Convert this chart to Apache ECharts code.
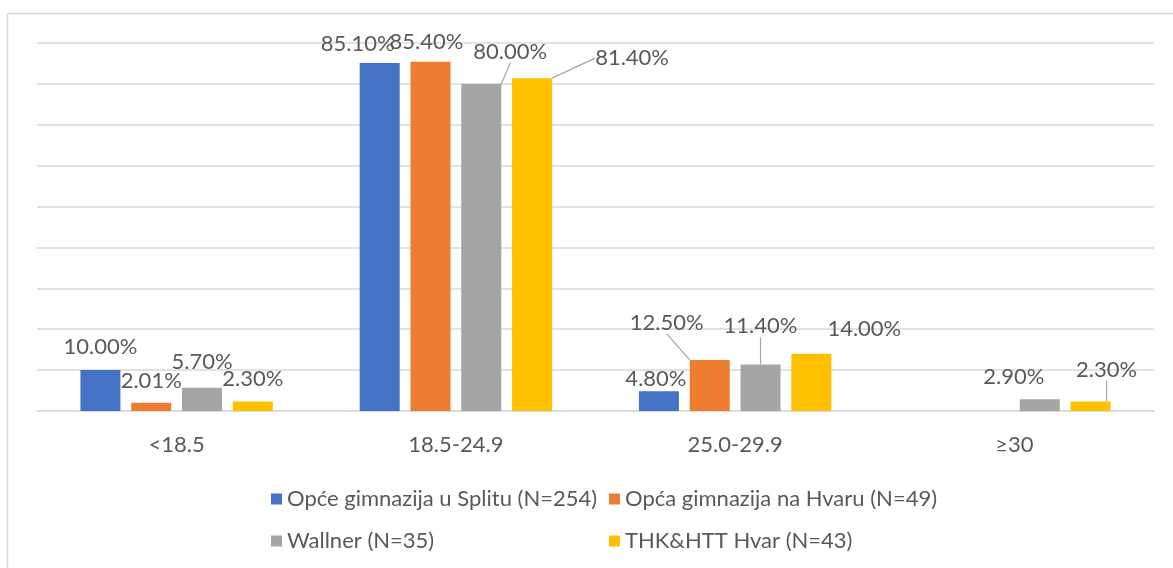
<!DOCTYPE html>
<html><head><meta charset="utf-8">
<script src="https://cdn.jsdelivr.net/npm/echarts@6/dist/echarts.min.js"></script>
<style>html,body{margin:0;padding:0;background:#fff}#c{width:1173px;height:568px}</style>
</head><body><div id="c"></div>
<script>
const categories = ['<18.5', '18.5-24.9', '25.0-29.9', '≥30'];
const seriesNames = ['Opće gimnazija u Splitu (N=254)', 'Opća gimnazija na Hvaru (N=49)', 'Wallner (N=35)', 'THK&HTT Hvar (N=43)'];
const splitValues = [10.00, 85.10, 4.80, null];
const hvarValues = [2.01, 85.40, 12.50, null];
const wallnerValues = [5.70, 80.00, 11.40, 2.90];
const thkValues = [2.30, 81.40, 14.00, 2.30];

const colors = ['#4472C4', '#ED7D31', '#A5A5A5', '#FFC000'];
// label displacement (style) relative to default top position, and leader-line flags
const labelShift = [
  [[0,0],[-22,4],[-3,11],[0,0]],
  [[0,1],[-4,3],[-43,-14],[0,0]],
  [[0,-3],[29,-9],[0,-15],[-26,1]],
  [[0,0],[100,3],[53,-2],[16,-9]]
];
const leader = [
  [false,false,false,false],
  [false,false,true,false],
  [false,true,true,false],
  [false,true,false,true]
];
const FONT = 'Lato';
const FS = 22;
const allValues = [splitValues, hvarValues, wallnerValues, thkValues];

const chart = echarts.init(document.getElementById('c'));
chart.setOption({
  animation: false,
  textStyle: {fontFamily: FONT},
  graphic: [{type:'rect', shape:{x:7.5, y:13.5, width:1300, height:700}, style:{fill:null, stroke:'#d9d9d9', lineWidth:1.5}, silent:true}],
  grid: {left: 37, right: 19, top: 43, bottom: 157},
  legend: [
    {data:[seriesNames[0], seriesNames[2]], orient:'vertical', left:266, top:483, itemGap:20, itemWidth:11, itemHeight:11, icon:'rect',
     textStyle:{fontFamily:FONT, fontSize:FS, color:'#595959'}},
    {data:[seriesNames[1], seriesNames[3]], orient:'vertical', left:604, top:483, itemGap:20, itemWidth:11, itemHeight:11, icon:'rect',
     textStyle:{fontFamily:FONT, fontSize:FS, color:'#595959'}}
  ],
  xAxis: {type:'category', data: categories,
    axisLine:{lineStyle:{color:'#d9d9d9', width:1.5}}, axisTick:{show:false},
    axisLabel:{color:'#595959', fontSize:FS, fontFamily:FONT, margin:23}},
  yAxis: {type:'value', min:0, max:90, interval:10,
    axisLabel:{show:false}, axisLine:{show:false}, axisTick:{show:false},
    splitLine:{lineStyle:{color:'#d9d9d9', width:1.5}}},
  series: allValues.map((vals, si) => ({
    name: seriesNames[si], type:'bar', barWidth:40, barGap:'27%',
    itemStyle:{color: colors[si]},
    data: vals.map((v, i) => ({value: v === null ? '-' : v, labelLine:{show: leader[si][i]}})),
    label:{show:true, position:'top', distance:12, color:'#595959', fontSize:FS, fontFamily:FONT,
      formatter: p => Number(p.value).toFixed(2) + '%'},
    labelLine:{show:false, lineStyle:{color:'#a6a6a6', width:1.2}},
    labelLayout: params => {
      const s = labelShift[si][params.dataIndex];
      return {dx: s[0], dy: s[1]};
    }
  }))
});
</script></body></html>
